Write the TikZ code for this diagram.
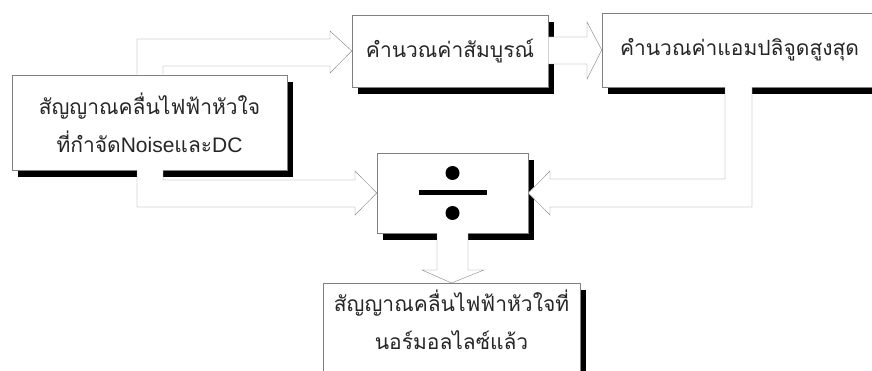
\documentclass[tikz,border=0pt]{standalone}
\usepackage{fontspec}
\setmainfont[Script=Thai]{Loma}
\newfontfamily\latin{Liberation Sans}
\usetikzlibrary{positioning, calc, shadows}

\tikzset{
  box/.style={draw=black!50, line width=0.5pt, fill=white, align=center, inner sep=0pt,
    text=black!85, font=\fontsize{21}{38}\selectfont,
    general shadow={shadow xshift=6pt, shadow yshift=-7pt, fill=black}},
  blockarrow/.style={draw=black!45, line width=0.45pt, fill=white, line join=miter},
}

\begin{document}
\begin{tikzpicture}[x=1pt, y=-1pt]
  \fill[white] (0,0) rectangle (872,371);
  \useasboundingbox (0,0) rectangle (872,371);

  % blocks
  \node[box, minimum width=275pt, minimum height=95pt]
    (src) at (149.5,122.5) {สัญญาณคลื่นไฟฟ้าหัวใจ\\ที่กำจัด{\latin Noise}และ{\latin DC}};
  \node[box, minimum width=196pt, minimum height=72pt]
    (absval) at (450,51) {คำนวณค่าสัมบูรณ์};
  \node[box, minimum width=280pt, minimum height=74pt, text width=244pt, align=left]
    (peak) at (742,50) {คำนวณค่าแอมปลิจูดสูงสุด};
  \node[box, minimum width=151pt, minimum height=80pt] (div) at (452.5,193) {};
  \node[box, minimum width=257pt, minimum height=100pt, anchor=north, text depth=28pt]
    (out) at (451.5,283) {สัญญาณคลื่นไฟฟ้าหัวใจที่\\นอร์มอลไลซ์แล้ว};

  % division sign
  \fill ($(div.center)+(0,-20)$) circle (7pt);
  \fill ($(div.center)+(0,20)$) circle (7pt);
  \fill ($(div.center)+(-34,-2.5)$) rectangle ($(div.center)+(34,2.5)$);

  % hollow arrows
  \draw[blockarrow] (137,0 |- src.north) |- (330,39) -- (330,31) -- (absval.west)
    -- (330,73) -- (330,66) -| (163,0 |- src.north);
  \draw[blockarrow] (163,0 |- src.south) |- (355,180) -- (355,171) -- (div.west)
    -- (355,215) -- (355,207) -| (137,0 |- src.south);
  \draw[blockarrow] (absval.east |- 0,37) -- (587,37) -- (587,22) -- (peak.west)
    -- (587,79) -- (587,64) -- (absval.east |- 0,64);
  \draw[blockarrow] (725,0 |- peak.south) |- (550,179) -- (550,171) -- (div.east)
    -- (550,215) -- (550,207) -| (752,0 |- peak.south);
  \draw[blockarrow] (437,0 |- div.south) -- (437,270) -- (422,270) -- (out.north)
    -- (484,270) -- (468,270) -- (468,0 |- div.south);
\end{tikzpicture}
\end{document}
